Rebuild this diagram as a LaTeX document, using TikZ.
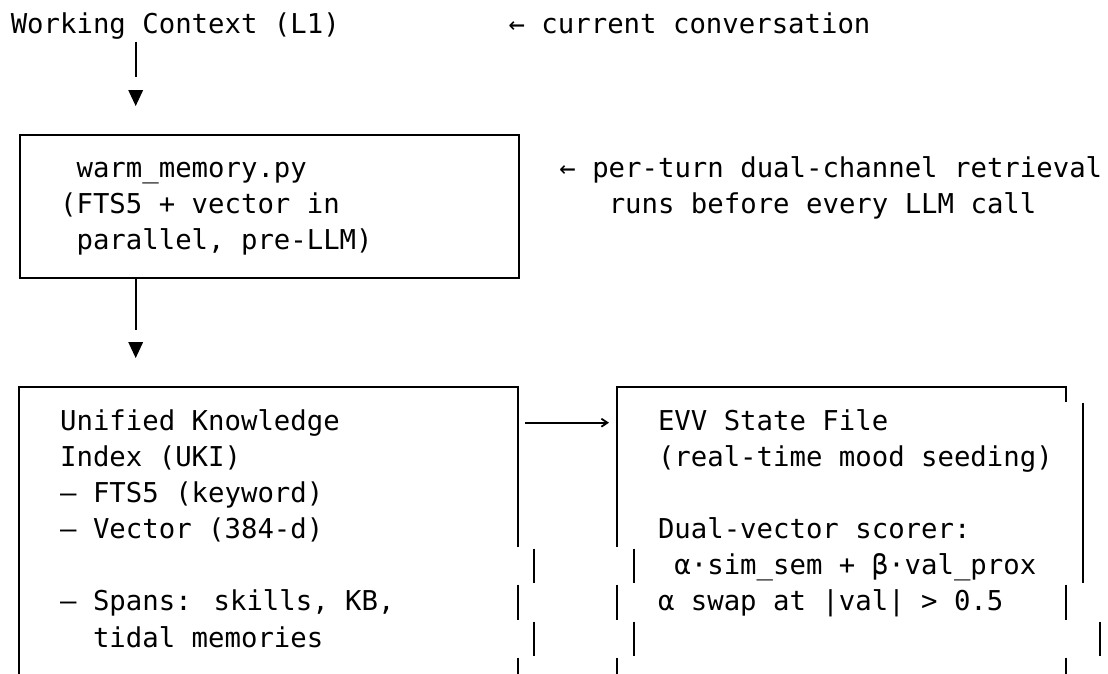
\documentclass[tikz,border=0pt]{standalone}
\usepackage{fontspec}
\newfontfamily\monofont{DejaVu Sans Mono}
\usetikzlibrary{arrows.meta}
\begin{document}
\begin{tikzpicture}[x=1pt,y=-1pt,
  txt/.style={anchor=base west, inner sep=0pt, outer sep=0pt,
              font=\monofont\fontsize{27.32pt}{36pt}\selectfont},
  border/.style={line width=2pt, line cap=butt},
  conn/.style={line width=2pt},
  tri/.style={fill=black, draw=none},
  flow/.style={line width=1.8pt, -{Straight Barb[length=6pt,width=8pt]}}]
\useasboundingbox (0,0) rectangle (1108,673);

% ---------- texts ----------
\node[txt] (wc) at (10.8,33.3) {Working Context (L1)};
\node[txt] (wcnote) at (508.6,33.3) {← current conversation};

\node[txt] (w1) at (76.6,177.7) {warm\_memory.py};
\node[txt] (w2) at (60.15,213.8) {(FTS5 + vector in};
\node[txt] (w3) at (76.6,249.9) {parallel, pre-LLM)};
\node[txt] (wn1) at (559.4,177.7) {← per-turn dual-channel retrieval};
\node[txt] (wn2) at (608.75,213.8) {runs before every LLM call};

\node[txt] (u1) at (60.15,430.4) {Unified Knowledge};
\node[txt] (u2) at (60.15,466.5) {Index (UKI)};
\node[txt] (u3) at (60.15,502.6) {— FTS5 (keyword)};
\node[txt] (u4) at (60.15,538.7) {— Vector (384-d)};
\node[txt] (u5) at (60.15,610.9) {— Spans: skills, KB,};
\node[txt] (u6) at (93.05,647.0) {tidal memories};

\node[txt] (e1) at (658,430.4) {EVV State File};
\node[txt] (e2) at (658,466.5) {(real-time mood seeding)};
\node[txt] (e3) at (658,538.7) {Dual-vector scorer:};
\node[txt] (e4) at (674.45,574.8) {α·sim\_sem + β·val\_prox};
\node[txt] (e5) at (658,610.9) {α swap at |val| > 0.5};

% ---------- box 1: warm_memory ----------
\node[draw, line width=2pt, inner sep=0pt, anchor=north west,
      minimum width=498.7pt, minimum height=143pt] (warm) at (19,134.3) {};

% ---------- box 2: UKI (ragged right edge) ----------
\draw[border] (19,690) -- (19,387.3) -- (517.7,387.3) -- (517.7,546.5);
\draw[border] (534,548.5) -- (534,582.7);
\draw[border] (517.7,584.5) -- (517.7,619.5);
\draw[border] (534,621.5) -- (534,655.7);
\draw[border] (517.7,657.5) -- (517.7,690);

% ---------- box 3: EVV (ragged edges) ----------
\draw[border] (617.3,546.5) -- (617.3,387.3) -- (1066,387.3) -- (1066,401.7);
\draw[border] (1082.7,403.3) -- (1082.7,582.7);
\draw[border] (634,548.5) -- (634,582.7);
\draw[border] (617.3,584.5) -- (617.3,619.5);
\draw[border] (1066,584.5) -- (1066,619.5);
\draw[border] (634,621.5) -- (634,655.7);
\draw[border] (1100,621.5) -- (1100,655.7);
\draw[border] (617.3,657.5) -- (617.3,690);
\draw[border] (1066,657.5) -- (1066,690);

% ---------- connectors ----------
\coordinate (c1a) at (135.7,41.7);
\coordinate (c1b) at (135.7,76.7);
\draw[conn] (c1a) -- (c1b);
\fill[tri] (128.2,90) -- (143.2,90) -- (135.7,106) -- cycle;

\coordinate (c2a) at (135.7,277.3);
\coordinate (c2b) at (135.7,330);
\draw[conn] (c2a) -- (c2b);
\fill[tri] (128.2,342) -- (143.2,342) -- (135.7,358) -- cycle;

\coordinate (a1s) at (525,422.7);
\coordinate (a1e) at (609,422.7);
\draw[flow] (a1s) -- (a1e);
\end{tikzpicture}
\end{document}
